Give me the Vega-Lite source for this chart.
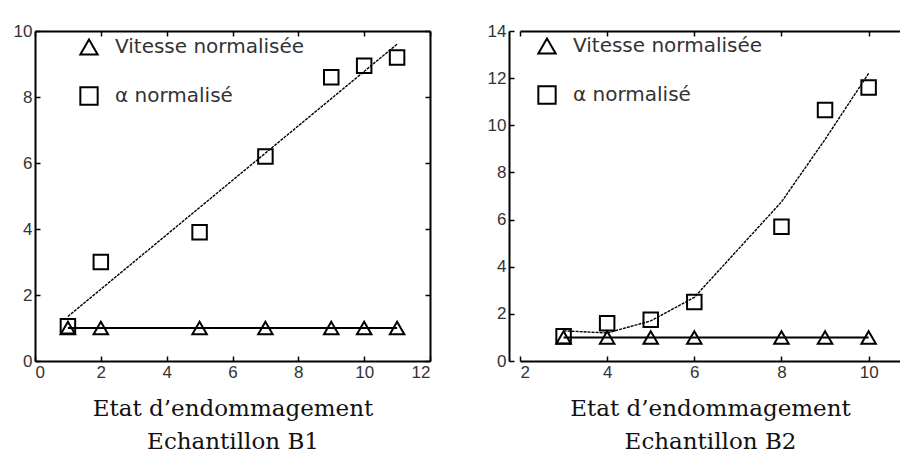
{
  "$schema": "https://vega.github.io/schema/vega-lite/v6.json",
  "padding": {"left": 13, "top": 22, "right": 0, "bottom": 0},
  "background": "white",
  "spacing": 56,
  "config": {
    "view": {"stroke": null},
    "axis": {
      "grid": false,
      "domainColor": "black",
      "domainWidth": 2,
      "tickColor": "black",
      "tickWidth": 1.5,
      "tickSize": -5,
      "labelFont": "Liberation Sans",
      "labelFontSize": 17,
      "labelColor": "#333",
      "labelPadding": 8,
      "titleFont": "DejaVu Serif",
      "titleFontSize": 23,
      "titleFontWeight": "normal",
      "titleColor": "#111",
      "titleLineHeight": 33,
      "titlePadding": 17
    }
  },
  "datasets": {
    "b1pts": [
      {"x": 1, "y": 1, "serie": "Vitesse normalisée"},
      {"x": 2, "y": 1, "serie": "Vitesse normalisée"},
      {"x": 5, "y": 1, "serie": "Vitesse normalisée"},
      {"x": 7, "y": 1, "serie": "Vitesse normalisée"},
      {"x": 9, "y": 1, "serie": "Vitesse normalisée"},
      {"x": 10, "y": 1, "serie": "Vitesse normalisée"},
      {"x": 11, "y": 1, "serie": "Vitesse normalisée"},
      {"x": 1, "y": 1.05, "serie": "α normalisé"},
      {"x": 2, "y": 3.0, "serie": "α normalisé"},
      {"x": 5, "y": 3.9, "serie": "α normalisé"},
      {"x": 7, "y": 6.2, "serie": "α normalisé"},
      {"x": 9, "y": 8.6, "serie": "α normalisé"},
      {"x": 10, "y": 8.95, "serie": "α normalisé"},
      {"x": 11, "y": 9.2, "serie": "α normalisé"}
    ],
    "b1fit": [
      {"x": 1, "y": 1.35},
      {"x": 11, "y": 9.6}
    ],
    "b2pts": [
      {"x": 3, "y": 1, "serie": "Vitesse normalisée"},
      {"x": 4, "y": 1, "serie": "Vitesse normalisée"},
      {"x": 5, "y": 1, "serie": "Vitesse normalisée"},
      {"x": 6, "y": 1, "serie": "Vitesse normalisée"},
      {"x": 8, "y": 1, "serie": "Vitesse normalisée"},
      {"x": 9, "y": 1, "serie": "Vitesse normalisée"},
      {"x": 10, "y": 1, "serie": "Vitesse normalisée"},
      {"x": 3, "y": 1.05, "serie": "α normalisé"},
      {"x": 4, "y": 1.6, "serie": "α normalisé"},
      {"x": 5, "y": 1.75, "serie": "α normalisé"},
      {"x": 6, "y": 2.5, "serie": "α normalisé"},
      {"x": 8, "y": 5.7, "serie": "α normalisé"},
      {"x": 9, "y": 10.65, "serie": "α normalisé"},
      {"x": 10, "y": 11.6, "serie": "α normalisé"}
    ],
    "b2fit": [
      {"x": 3, "y": 1.28},
      {"x": 4, "y": 1.19},
      {"x": 5, "y": 1.7},
      {"x": 6, "y": 2.7},
      {"x": 8, "y": 6.75},
      {"x": 9, "y": 9.4},
      {"x": 10, "y": 12.2}
    ]
  },
  "hconcat": [
    {
      "width": 395,
      "height": 330,
      "layer": [
        {
          "data": {"name": "b1fit"},
          "mark": {"type": "line", "color": "black", "strokeWidth": 1.4, "strokeDash": [3, 1]},
          "encoding": {
            "x": {"field": "x", "type": "quantitative", "scale": {"domain": [0, 12], "nice": false},
                  "axis": {"orient": "top", "labels": false, "values": [0, 2, 4, 6, 8, 10, 12], "title": null}},
            "y": {"field": "y", "type": "quantitative", "scale": {"domain": [0, 10], "nice": false},
                  "axis": {"orient": "right", "labels": false, "values": [0, 2, 4, 6, 8, 10], "title": null}}
          }
        },
        {
          "data": {"name": "b1pts"},
          "transform": [{"filter": "datum.serie == 'Vitesse normalisée'"}],
          "mark": {"type": "line", "color": "black", "strokeWidth": 2},
          "encoding": {
            "x": {"field": "x", "type": "quantitative", "axis": null},
            "y": {"field": "y", "type": "quantitative", "axis": null}
          }
        },
        {
          "data": {"name": "b1pts"},
          "mark": {"type": "point", "filled": false, "color": "black", "strokeWidth": 2, "size": 210, "opacity": 1},
          "encoding": {
            "x": {"field": "x", "type": "quantitative",
                  "axis": {"orient": "bottom", "values": [0, 2, 4, 6, 8, 10, 12], "title": ["Etat d’endommagement", "Echantillon B1"]}},
            "y": {"field": "y", "type": "quantitative",
                  "axis": {"orient": "left", "values": [0, 2, 4, 6, 8, 10], "title": null}},
            "shape": {"field": "serie", "type": "nominal",
                      "scale": {"domain": ["Vitesse normalisée", "α normalisé"], "range": ["triangle-up", "square"]},
                      "legend": {"orient": "none", "legendX": 44, "legendY": 6, "title": null,
                                 "symbolSize": 300, "symbolStrokeWidth": 2, "symbolStrokeColor": "black", "symbolFillColor": "transparent",
                                 "labelFont": "DejaVu Sans", "labelFontSize": 20, "labelColor": "#333", "labelLimit": 0,
                                 "rowPadding": 24, "labelOffset": 16}}
          }
        }
      ],
      "resolve": {"axis": {"x": "independent", "y": "independent"}}
    },
    {
      "width": 380,
      "height": 330,
      "layer": [
        {
          "data": {"name": "b2fit"},
          "mark": {"type": "line", "color": "black", "strokeWidth": 1.4, "strokeDash": [3, 1]},
          "encoding": {
            "x": {"field": "x", "type": "quantitative", "scale": {"domain": [2, 10.72], "nice": false},
                  "axis": {"orient": "top", "labels": false, "values": [2, 4, 6, 8, 10], "title": null}},
            "y": {"field": "y", "type": "quantitative", "scale": {"domain": [0, 14], "nice": false}, "axis": null}
          }
        },
        {
          "data": {"name": "b2pts"},
          "transform": [{"filter": "datum.serie == 'Vitesse normalisée'"}],
          "mark": {"type": "line", "color": "black", "strokeWidth": 2},
          "encoding": {
            "x": {"field": "x", "type": "quantitative", "axis": null},
            "y": {"field": "y", "type": "quantitative", "axis": null}
          }
        },
        {
          "data": {"name": "b2pts"},
          "mark": {"type": "point", "filled": false, "color": "black", "strokeWidth": 2, "size": 210, "opacity": 1},
          "encoding": {
            "x": {"field": "x", "type": "quantitative",
                  "axis": {"orient": "bottom", "values": [2, 4, 6, 8, 10], "title": ["Etat d’endommagement", "Echantillon B2"]}},
            "y": {"field": "y", "type": "quantitative",
                  "axis": {"orient": "left", "offset": 11, "values": [0, 2, 4, 6, 8, 10, 12, 14], "title": null}},
            "shape": {"field": "serie", "type": "nominal",
                      "scale": {"domain": ["Vitesse normalisée", "α normalisé"], "range": ["triangle-up", "square"]},
                      "legend": {"orient": "none", "legendX": 17, "legendY": 5, "title": null,
                                 "symbolSize": 300, "symbolStrokeWidth": 2, "symbolStrokeColor": "black", "symbolFillColor": "transparent",
                                 "labelFont": "DejaVu Sans", "labelFontSize": 20, "labelColor": "#333", "labelLimit": 0,
                                 "rowPadding": 24, "labelOffset": 16}}
          }
        }
      ],
      "resolve": {"axis": {"x": "independent", "y": "independent"}}
    }
  ],
  "resolve": {"scale": {"shape": "independent", "x": "independent", "y": "independent"}, "legend": {"shape": "independent"}}
}
